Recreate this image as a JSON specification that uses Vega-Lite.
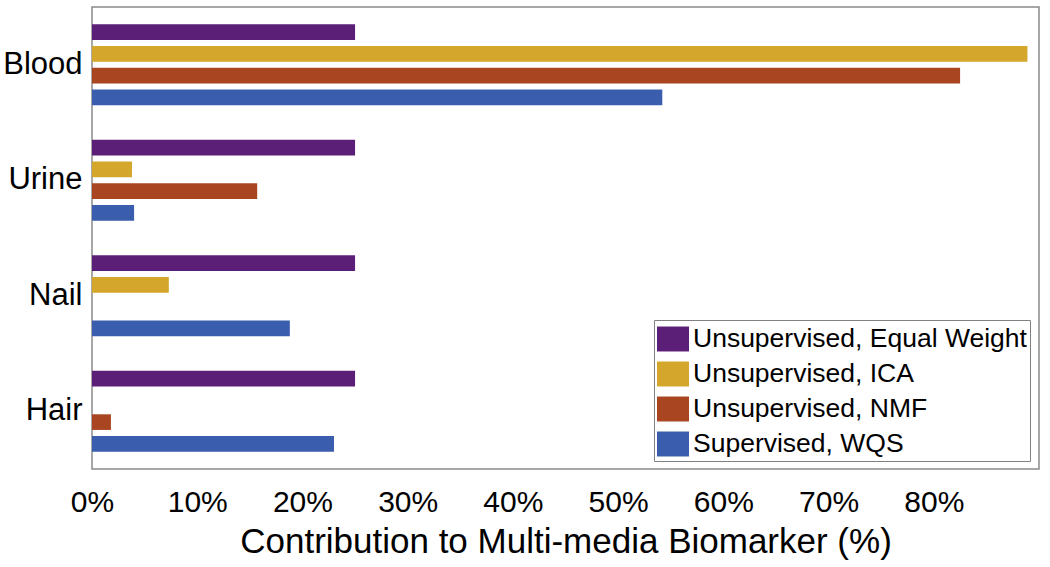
{
  "$schema": "https://vega.github.io/schema/vega-lite/v6.json",
  "autosize": {"type": "none"},
  "padding": {"left": 92, "top": 7, "right": 11, "bottom": 98},
  "width": 947,
  "height": 462,
  "background": "white",
  "config": {
    "font": "Liberation Sans",
    "view": {"stroke": "#8a8a8a", "strokeWidth": 1.5}
  },
  "data": {
    "values": [
      {"medium": "Blood", "method": "Unsupervised, Equal Weight", "value": 25.0},
      {"medium": "Blood", "method": "Unsupervised, ICA", "value": 88.9},
      {"medium": "Blood", "method": "Unsupervised, NMF", "value": 82.5},
      {"medium": "Blood", "method": "Supervised, WQS", "value": 54.2},
      {"medium": "Urine", "method": "Unsupervised, Equal Weight", "value": 25.0},
      {"medium": "Urine", "method": "Unsupervised, ICA", "value": 3.8},
      {"medium": "Urine", "method": "Unsupervised, NMF", "value": 15.7},
      {"medium": "Urine", "method": "Supervised, WQS", "value": 4.0},
      {"medium": "Nail", "method": "Unsupervised, Equal Weight", "value": 25.0},
      {"medium": "Nail", "method": "Unsupervised, ICA", "value": 7.3},
      {"medium": "Nail", "method": "Unsupervised, NMF", "value": 0},
      {"medium": "Nail", "method": "Supervised, WQS", "value": 18.8},
      {"medium": "Hair", "method": "Unsupervised, Equal Weight", "value": 25.0},
      {"medium": "Hair", "method": "Unsupervised, ICA", "value": 0},
      {"medium": "Hair", "method": "Unsupervised, NMF", "value": 1.8},
      {"medium": "Hair", "method": "Supervised, WQS", "value": 23.0}
    ]
  },
  "mark": {"type": "bar"},
  "encoding": {
    "y": {
      "field": "medium",
      "type": "nominal",
      "sort": ["Blood", "Urine", "Nail", "Hair"],
      "scale": {"paddingInner": 0.3, "paddingOuter": 0.15},
      "axis": {
        "title": null,
        "domain": false,
        "ticks": false,
        "tickSize": 0,
        "labelFontSize": 31,
        "labelColor": "black",
        "labelPadding": 10
      }
    },
    "yOffset": {
      "field": "method",
      "type": "nominal",
      "sort": ["Unsupervised, Equal Weight", "Unsupervised, ICA", "Unsupervised, NMF", "Supervised, WQS"],
      "scale": {"paddingInner": 0.28, "paddingOuter": 0}
    },
    "x": {
      "field": "value",
      "type": "quantitative",
      "scale": {"domain": [0, 90], "nice": false},
      "axis": {
        "title": "Contribution to Multi-media Biomarker (%)",
        "titleFontSize": 35,
        "titleFontWeight": "normal",
        "titleColor": "black",
        "titleBaseline": "alphabetic",
        "titleY": 83,
        "values": [0, 10, 20, 30, 40, 50, 60, 70, 80],
        "labelExpr": "datum.value + '%'",
        "labelFlush": false,
        "labelFontSize": 30,
        "labelColor": "black",
        "labelPadding": 18,
        "ticks": false,
        "tickSize": 0,
        "domain": false,
        "grid": false
      }
    },
    "color": {
      "field": "method",
      "type": "nominal",
      "scale": {
        "domain": ["Unsupervised, Equal Weight", "Unsupervised, ICA", "Unsupervised, NMF", "Supervised, WQS"],
        "range": ["#5c1f78", "#d4a62b", "#aa4521", "#3a5dae"]
      },
      "legend": {
        "title": null,
        "orient": "none",
        "legendX": 562,
        "legendY": 313,
        "direction": "vertical",
        "labelFontSize": 26.5,
        "labelColor": "black",
        "labelOffset": 4,
        "labelLimit": 500,
        "symbolType": "M-1,-0.78H1V0.78H-1Z",
        "symbolSize": 1024,
        "symbolStrokeWidth": 0,
        "symbolOpacity": 1,
        "rowPadding": 5,
        "padding": 3,
        "strokeColor": "#808080",
        "fillColor": "white"
      }
    }
  }
}
